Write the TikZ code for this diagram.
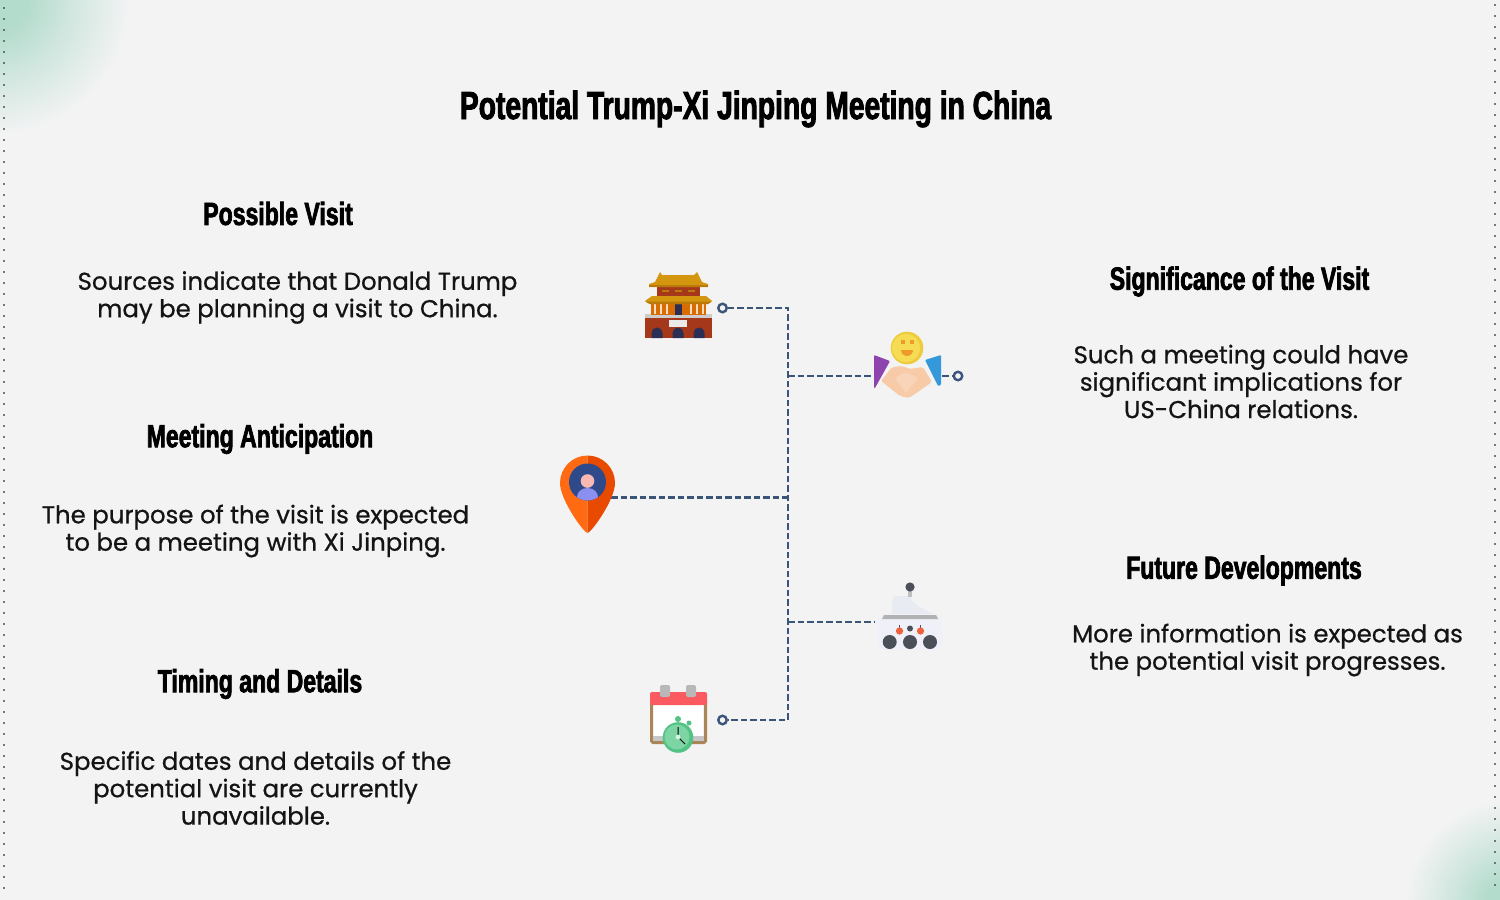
\documentclass[tikz,border=0pt]{standalone}
\usepackage{fontspec}
\setmainfont{Poppins}[FakeBold=0.7]
\newfontfamily\headfont{Liberation Sans}[UprightFont=* Bold,FakeStretch=0.72,FakeBold=2.2]
\definecolor{bgc}{HTML}{F3F3F4}
\definecolor{tealc}{HTML}{B4DCCD}
\definecolor{linec}{HTML}{3B5578}
\definecolor{txtc}{HTML}{141414}
\definecolor{gold}{HTML}{D4960F}
\definecolor{goldd}{HTML}{B97A0A}
\definecolor{brick}{HTML}{A5371A}
\definecolor{navy}{HTML}{2B2F55}
\definecolor{pinl}{HTML}{FF6A13}
\definecolor{pinr}{HTML}{E84A00}
\definecolor{pinin}{HTML}{2F4A8A}
\definecolor{pinbody}{HTML}{8A8FF0}
\definecolor{pinhead}{HTML}{F8B9B4}
\definecolor{darkg}{HTML}{4B5058}
\definecolor{coin}{HTML}{EDCB3A}
\definecolor{coinin}{HTML}{F6DC55}
\definecolor{smile}{HTML}{EE9B2B}
\definecolor{purp}{HTML}{8E44AD}
\definecolor{bluew}{HTML}{3498DB}
\definecolor{peach}{HTML}{F7CBA8}
\definecolor{peachl}{HTML}{F9D4B8}
\definecolor{palered}{HTML}{F0603C}
\definecolor{domec}{HTML}{E9EBF3}
\definecolor{bodyc}{HTML}{EFF0F8}
\definecolor{calred}{HTML}{FB5A60}
\definecolor{calbrown}{HTML}{A98558}
\definecolor{clockd}{HTML}{52C285}
\definecolor{clockl}{HTML}{7DD5A3}
\pgfdeclareradialshading{glow}{\pgfpoint{0bp}{0bp}}{color(0bp)=(tealc); color(6bp)=(tealc); color(14bp)=(tealc!55!bgc); color(25bp)=(bgc); color(50bp)=(bgc)}
\tikzset{
  bodytxt/.style={align=center,font=\fontsize{24.4}{27.4}\selectfont,text=txtc,inner sep=0pt},
  headtxt/.style={font=\headfont\fontsize{32}{36}\selectfont,text=black,inner sep=0pt},
  titletxt/.style={font=\headfont\fontsize{39.2}{42}\selectfont,text=black,inner sep=0pt},
  ring/.style={circle,draw=linec,line width=2.4pt,fill=bgc,minimum size=8.5pt,inner sep=0pt},
  dashc/.style={draw=linec,line width=2.4pt,dash pattern=on 6.5pt off 3pt},
  iconbox/.style={inner sep=0pt,minimum size=2pt},
  edgedot/.style={fill=black!65,opacity=.8},
}
\begin{document}
\begin{tikzpicture}[x=1pt,y=-1pt]
\useasboundingbox (0,0) rectangle (1500,900);
\fill[bgc] (0,0) rectangle (1500,900);
% corner glows
\begin{scope}
\clip (0,0) rectangle (1500,900);
\shade[shading=glow] (-5,0) circle (135);
\shade[shading=glow] (1510,905) circle (105);
\end{scope}
% edge dots
\foreach \k in {0,...,80}{
  \fill[edgedot] (3.2,{6.5+11*\k}) rectangle +(2,2);
  \fill[edgedot] (1494.2,{4+11*\k}) rectangle +(2,2);
}
% title and texts
\node[titletxt] (title) at (755.5,109) {Potential Trump-Xi Jinping Meeting in China};
\node[headtxt] (h1) at (278,213.5) {Possible Visit};
\node[bodytxt] (t1) at (297.5,297.5) {Sources indicate that Donald Trump\\may be planning a visit to China.};
\node[headtxt] (h2) at (260,439) {Meeting Anticipation};
\node[bodytxt] (t2) at (255.5,531) {The purpose of the visit is expected\\to be a meeting with Xi Jinping.};
\node[headtxt] (h3) at (260,684) {Timing and Details};
\node[bodytxt] (t3) at (255.5,788) {Specific dates and details of the\\potential visit are currently\\unavailable.};
\node[headtxt] (h4) at (1239.5,281.5) {Significance of the Visit};
\node[bodytxt] (t4) at (1241,381.5) {Such a meeting could have\\significant implications for\\US-China relations.};
\node[headtxt] (h5) at (1244,570.5) {Future Developments};
\node[bodytxt] (t5) at (1267.5,650) {More information is expected as\\the potential visit progresses.};
% anchors
\node[iconbox] (hands) at (941,376) {};
\node[iconbox] (handsL) at (876,376) {};
\node[iconbox] (pin) at (610,497.5) {};
\node[iconbox] (robot) at (876,622) {};
\node[ring] (r1) at (722.5,308) {};
\node[ring] (r2) at (722.5,720) {};
\node[ring] (r3) at (958,376) {};
\coordinate (c1) at (788,308);
\coordinate (c2) at (788,720);
\coordinate (j1) at (788,376);
\coordinate (j2) at (788,497.5);
\coordinate (j3) at (788,622);
% connectors
\draw[dashc] (r1) -- (c1) -- (c2) -- (r2);
\draw[dashc] (j1) -- (handsL);
\draw[dashc] (hands) -- (r3);
\draw[dashc] (pin) -- (j2);
\draw[dashc] (j3) -- (robot);
% palace icon
\fill[brick] (645,315) rectangle (712,338);
\fill[black!20] (645,314) rectangle (712,318);
\fill[white!92!black] (669,320) rectangle (687,326.5);
\foreach \x in {657,678,699}{
  \fill[navy] (\x-5.5,338) -- (\x-5.5,333) arc[start angle=180,end angle=360,radius=5.5] -- (\x+5.5,338) -- cycle;
}
\fill[orange!85!black] (651,303) rectangle (706,315);
\foreach \x in {654,660,666,690,696,702}{\fill[white!75!orange] (\x,304) rectangle +(2.2,10);}
\fill[navy] (675,304) rectangle (682,315);
\fill[brick] (657,287) rectangle (700,297);
\fill[goldd] (662,289.5) rectangle +(7,2);
\fill[goldd] (675,289.5) rectangle +(7,2);
\fill[goldd] (688,289.5) rectangle +(7,2);
\fill[gold] (652,296) -- (706,296) -- (712,301) -- (708,304) -- (650,304) -- (645,301) -- cycle;
\fill[goldd] (645,301.5) -- (712,301.5) -- (708,304) -- (650,304) -- cycle;
\fill[gold] (658,276) -- (660,272) -- (662,275) -- (694,275) -- (697,272) -- (699,276) -- (702,282) -- (708,284) -- (708,287) -- (649,287) -- (649,284) -- (655,282) -- cycle;
\fill[goldd] (649,284.5) -- (708,284.5) -- (708,287) -- (649,287) -- cycle;
% handshake icon
\fill[coin] (907,348) circle (16.3);
\fill[coinin] (906,348) circle (14);
\fill[smile] (901,340) rectangle +(4,4);
\fill[smile] (910,340) rectangle +(4,4);
\fill[smile] (901,350) arc[start angle=180,end angle=0,radius=6] -- cycle;
\fill[peach,rounded corners=2pt] (892,367) -- (903,366) -- (909,369) -- (923,367) -- (932,382) -- (909,398) -- (900,396) -- (881,381) -- cycle;
\fill[peachl,rounded corners=2pt] (895,378) -- (906,372) -- (918,378) -- (906,393) -- cycle;
\fill[purp,rounded corners=1pt] (874,355) -- (890,361) -- (875,388) -- (874,388) -- cycle;
\fill[bluew,rounded corners=1pt] (941,355) -- (925,360) -- (938,386) -- (941,385) -- cycle;
% pin icon
\fill[pinl] (587.5,533) .. controls (584,533) and (560,500) .. (560,483) arc[start angle=180,end angle=270,radius=27.5] -- cycle;
\fill[pinr] (587.5,533) .. controls (591,533) and (615,500) .. (615,483) arc[start angle=0,end angle=-90,radius=27.5] -- cycle;
\fill[pinin] (587.5,482) circle (18.5);
\begin{scope}
\clip (587.5,482) circle (18.5);
\fill[pinbody] (577,501) -- (577,497) arc[start angle=180,end angle=360,x radius=10.5,y radius=9] -- (598,501) -- cycle;
\end{scope}
\fill[pinhead] (587.5,481) circle (6.8);
% robot icon
\fill[domec] (892,614) .. controls (892,605) and (892,600) .. (894,596) -- (910,596) .. controls (912,605) and (925,610) .. (934,614) -- cycle;
\fill[bodyc,rounded corners=10pt] (877,614) -- (942,614) -- (942,650) -- (877,650) -- cycle;
\fill[black!30] (884,615) -- (936,615) -- (938,619) -- (882,619) -- cycle;
\fill[black!25] (908,591) rectangle (912,597);
\fill[darkg] (910,587) circle (4.6);
\fill[darkg] (899,625) rectangle +(1.3,4);
\fill[darkg] (920,625) rectangle +(1.3,4);
\fill[palered] (899.5,631) circle (3.6);
\fill[palered] (920.5,631) circle (3.6);
\fill[darkg] (910,628.5) circle (3);
\foreach \x in {889.7,910,930}{\fill[darkg] (\x,642) circle (7);}
% calendar icon
\fill[white] (651,703) rectangle (706,742);
\draw[calbrown,line width=3.2pt,rounded corners=1.5pt] (651.6,700) -- (651.6,742.4) -- (705.4,742.4) -- (705.4,700);
\fill[black!22] (653,736) rectangle (704,740.8);
\fill[calred,rounded corners=2pt] (650,692) rectangle (707,705);
\fill[black!28,rounded corners=2pt] (660,685) rectangle (670,697);
\fill[black!28,rounded corners=2pt] (686,685) rectangle (696,697);
\fill[clockd] (678,719) circle (3);
\fill[clockd] (689,723) circle (2.5);
\fill[clockd] (678,737.5) circle (15.3);
\fill[clockl] (677,737) circle (12.5);
\draw[black,line width=1pt] (678,727) -- (678,737) -- (685,744);
\fill[white!70!clockl] (678,737) circle (2.4);
\end{tikzpicture}
\end{document}
